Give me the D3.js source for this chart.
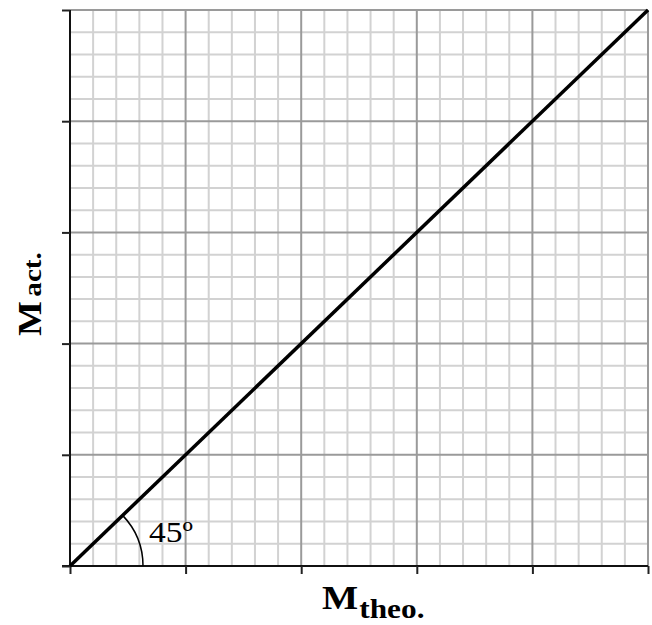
<!DOCTYPE html>
<html>
<head>
<meta charset="utf-8">
<script src="https://cdn.jsdelivr.net/npm/d3@7"></script>
<style>
  html, body { margin: 0; padding: 0; background: #fff; }
  svg { display: block; }
</style>
</head>
<body>
<svg id="chart" width="652" height="625"></svg>
<script>
// ---- data ----
const xDomain = [0, 5];
const yDomain = [0, 5];
const majorTicks = [0, 1, 2, 3, 4, 5];
const minorTicks = d3.range(0, 26).map(i => i / 5);
const lineX = [0, 5];
const lineY = [0, 5];
const angleLabel = "45º";
const xLabelMain = "M";
const xLabelSub = "theo.";
const yLabelMain = "M";
const yLabelSub = "act.";

// ---- layout ----
const svg = d3.select("#chart");
const mLeft = 70, mRight = 648, mTop = 10, mBottom = 566;
const x = d3.scaleLinear().domain(xDomain).range([mLeft, mRight]);
const y = d3.scaleLinear().domain(yDomain).range([mBottom, mTop]);
const serif = "Liberation Serif, Times New Roman, serif";

const minorOnly = minorTicks.filter(v => Math.abs(v - Math.round(v)) > 1e-9);

// minor grid
const g = svg.append("g");
g.selectAll("line.vmin").data(minorOnly).enter().append("line")
  .attr("x1", d => x(d)).attr("x2", d => x(d))
  .attr("y1", y(5)).attr("y2", y(0))
  .attr("stroke", "#d2d2d2").attr("stroke-width", 2);
g.selectAll("line.hmin").data(minorOnly).enter().append("line")
  .attr("y1", d => y(d)).attr("y2", d => y(d))
  .attr("x1", x(0)).attr("x2", x(5))
  .attr("stroke", "#d2d2d2").attr("stroke-width", 2);
// major grid
g.selectAll("line.vmaj").data(majorTicks.slice(1)).enter().append("line")
  .attr("x1", d => x(d)).attr("x2", d => x(d))
  .attr("y1", y(5)).attr("y2", y(0))
  .attr("stroke", "#9a9a9a").attr("stroke-width", 2);
g.selectAll("line.hmaj").data(majorTicks.slice(1)).enter().append("line")
  .attr("y1", d => y(d)).attr("y2", d => y(d))
  .attr("x1", x(0)).attr("x2", x(5))
  .attr("stroke", "#9a9a9a").attr("stroke-width", 2);

// axes
const xAxis = d3.axisBottom(x).tickValues(majorTicks).tickSize(8).tickFormat("");
const yAxis = d3.axisLeft(y).tickValues(majorTicks).tickSize(8).tickFormat("");
const gx = svg.append("g").attr("transform", `translate(0,${mBottom})`).call(xAxis);
const gy = svg.append("g").attr("transform", `translate(${mLeft},0)`).call(yAxis);
[gx, gy].forEach(a => {
  a.select(".domain").attr("stroke", "#111").attr("stroke-width", 2);
  a.selectAll(".tick line").attr("stroke", "#222").attr("stroke-width", 2);
});
gx.select(".domain").attr("d", `M${mLeft-8},0H${mRight}`);
gy.select(".domain").attr("d", `M0,${mTop}V${mBottom}`);

// diagonal line
const pts = lineX.map((v, i) => [x(v), y(lineY[i])]);
svg.append("path")
  .attr("d", d3.line()(pts))
  .attr("fill", "none").attr("stroke", "#000").attr("stroke-width", 3.5);

// angle arc
const ang = Math.atan2(pts[0][1] - pts[1][1], pts[1][0] - pts[0][0]);
const arc = d3.arc().innerRadius(73).outerRadius(73)
  .startAngle(Math.PI / 2 - ang).endAngle(Math.PI / 2);
svg.append("path")
  .attr("transform", `translate(${x(0)},${y(0)})`)
  .attr("d", arc())
  .attr("fill", "none").attr("stroke", "#000").attr("stroke-width", 1.5);

svg.append("text")
  .attr("transform", "translate(149,542) scale(1.12,1)")
  .attr("font-family", serif)
  .attr("font-size", 30)
  .attr("fill", "#000")
  .text(angleLabel);

// x label
const xl = svg.append("text")
  .attr("transform", "translate(322,609) scale(1.16,1)")
  .attr("font-family", serif)
  .attr("font-weight", "bold")
  .attr("fill", "#000");
xl.append("tspan").attr("font-size", 33).text(xLabelMain);
xl.append("tspan").attr("font-size", 27).attr("dy", 9).attr("dx", 1).text(xLabelSub);

// y label
const yl = svg.append("text")
  .attr("transform", "translate(41,336) rotate(-90) scale(1.12,1)")
  .attr("font-family", serif)
  .attr("font-weight", "bold")
  .attr("fill", "#000");
yl.append("tspan").attr("font-size", 33).text(yLabelMain);
yl.append("tspan").attr("font-size", 26).attr("dx", 4).text(yLabelSub);
</script>
</body>
</html>
